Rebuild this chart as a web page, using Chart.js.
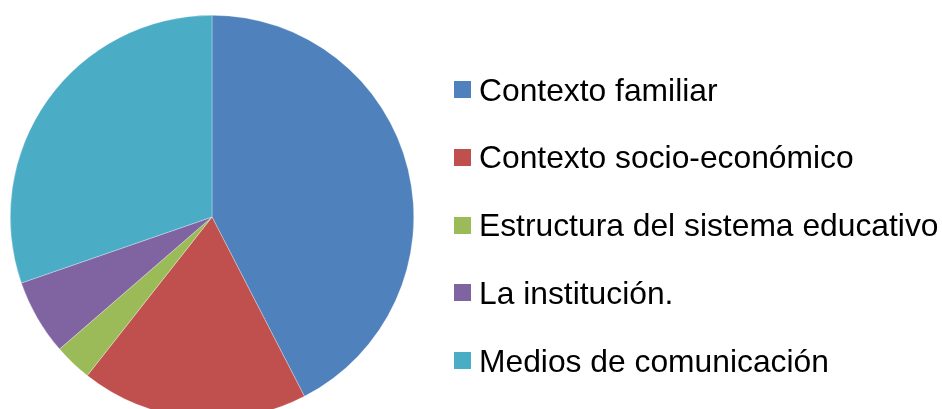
<!DOCTYPE html>
<html>
<head>
<meta charset="utf-8">
<script src="https://cdn.jsdelivr.net/npm/chart.js@4/dist/chart.umd.min.js"></script>
<style>
  html, body { margin:0; padding:0; background:#fff; }
  #wrap { position:relative; width:942px; height:409px; overflow:hidden; background:#fff; }
  #pieBox { position:absolute; left:0; top:0; width:440px; height:460px; }
  #legend { position:absolute; left:0; top:0; width:942px; height:409px; font-family:"Liberation Sans", Arial, sans-serif; }
  .item { position:absolute; left:454px; height:36px; line-height:36px; white-space:nowrap; font-size:31.8px; color:#000; }
  .sw { position:absolute; left:0; width:17px; height:17px; }
  .tx { position:absolute; left:25px; top:0; }
</style>
</head>
<body>
<div id="wrap">
  <div id="pieBox"><canvas id="c"></canvas></div>
  <div id="legend"></div>
</div>
<script>
const categories = ["Contexto familiar", "Contexto socio-económico", "Estructura del sistema educativo", "La institución.", "Medios de comunicación"];
const values = [14, 6, 1, 2, 10];
const colors = ["#4F81BD", "#C0504D", "#9BBB59", "#8064A2", "#4BACC6"];

new Chart(document.getElementById('c'), {
  type: 'pie',
  data: {
    labels: categories,
    datasets: [{
      data: values,
      backgroundColor: colors,
      borderColor: 'rgba(255,255,255,0.6)',
      borderWidth: 0.5
    }]
  },
  options: {
    responsive: true,
    maintainAspectRatio: false,
    animation: false,
    layout: { padding: { left: 10, top: 15, right: 26, bottom: 41 } },
    plugins: { legend: { display: false }, tooltip: { enabled: false } }
  }
});

const legend = document.getElementById('legend');
const firstTop = 71.6, step = 67.75;
categories.forEach((name, i) => {
  const it = document.createElement('div');
  it.className = 'item';
  it.style.top = (firstTop + i * step) + 'px';
  const sw = document.createElement('div');
  sw.className = 'sw';
  sw.style.background = colors[i];
  sw.style.top = '9.5px';
  const tx = document.createElement('span');
  tx.className = 'tx';
  tx.textContent = name;
  it.appendChild(sw);
  it.appendChild(tx);
  legend.appendChild(it);
});
</script>
</body>
</html>
